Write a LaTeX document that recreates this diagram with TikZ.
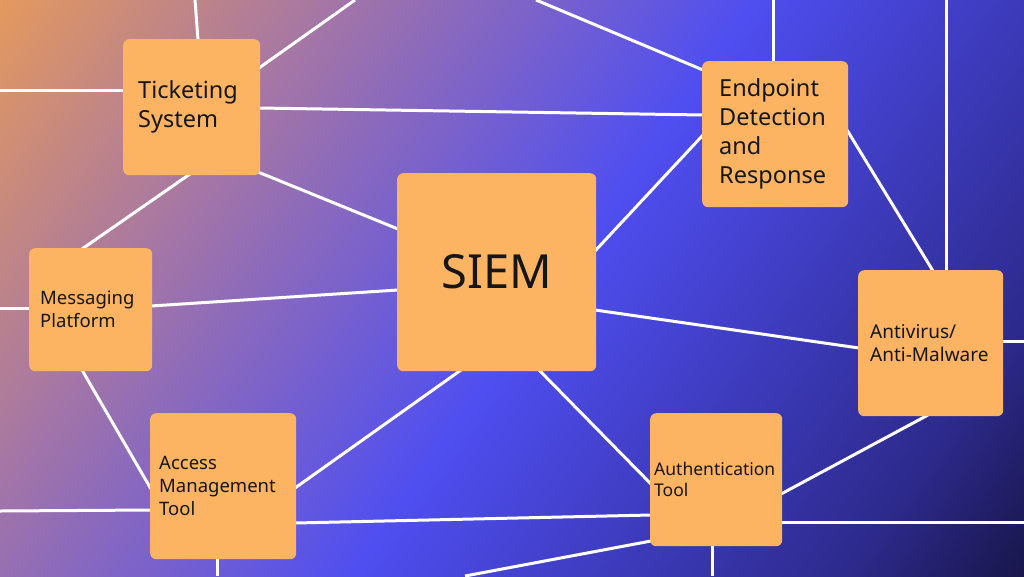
\documentclass[tikz,border=0pt]{standalone}
\usepackage{fontspec}
\setmainfont{Noto Sans}
\usetikzlibrary{backgrounds}
\definecolor{bgA}{HTML}{F0A050}
\definecolor{bgB}{HTML}{A275A8}
\definecolor{bgC}{HTML}{4F4EF0}
\definecolor{bgD}{HTML}{2D2A8C}
\definecolor{bgE}{HTML}{0C0A22}
\definecolor{boxc}{HTML}{FDB462}
\definecolor{txt}{HTML}{161616}
\pgfdeclarehorizontalshading{bgshade}{100bp}{color(0bp)=(bgA); color(12bp)=(bgA); color(32bp)=(bgB); color(52bp)=(bgC); color(76bp)=(bgD); color(90bp)=(bgE); color(100bp)=(bgE)}
\tikzset{
  box/.style={fill=boxc, rounded corners=6pt, align=left, inner ysep=0pt, text=txt, anchor=north west},
  wire/.style={draw=white, line width=3pt}
}
\begin{document}
\begin{tikzpicture}[x=1pt,y=-1pt]
\useasboundingbox (0,0) rectangle (1024,576);
\node[box, minimum width=137pt, minimum height=136pt, text width=107pt, inner xsep=15pt, font=\fontsize{23.5}{29}\selectfont] (t) at (123,39) {Ticketing\\System};
\node[box, minimum width=146pt, minimum height=146pt, text width=112pt, inner xsep=17pt, font=\fontsize{23.5}{29}\selectfont] (e) at (702,61) {Endpoint\\Detection\\and\\Response};
\node[box, minimum width=199pt, minimum height=198pt, text width=199pt, inner xsep=0pt, align=center, font=\fontsize{47}{50}\selectfont] (s) at (397,173) {SIEM};
\node[box, minimum width=123pt, minimum height=123pt, text width=101pt, inner xsep=11pt, font=\fontsize{18.5}{23}\selectfont] (m) at (29,248) {Messaging\\Platform};
\node[box, minimum width=145pt, minimum height=146pt, text width=121pt, inner xsep=12pt, font=\fontsize{19}{23}\selectfont] (av) at (858,270) {Antivirus/\\Anti-Malware};
\node[box, minimum width=146pt, minimum height=146pt, text width=128pt, inner xsep=9pt, font=\fontsize{18.5}{23}\selectfont] (am) at (150,413) {Access\\Management\\Tool};
\node[box, minimum width=132pt, minimum height=133pt, text width=124pt, inner xsep=4pt, font=\fontsize{17.5}{21}\selectfont] (au) at (650,413) {Authentication\\Tool};
\begin{scope}[on background layer]
\shade[shading=bgshade, shading angle=-35] (0,0) rectangle (1024,576);
\draw[wire] (195,0) -- (198,40);
\draw[wire] (0,90) -- (124,90);
\draw[wire] (259,68) -- (355,0);
\draw[wire] (259,108) -- (703,115);
\draw[wire] (190,174) -- (82,249);
\draw[wire] (258,172) -- (398,229);
\draw[wire] (536,0) -- (703,70);
\draw[wire] (773,0) -- (773,62);
\draw[wire] (703,135) -- (595,251);
\draw[wire] (847,130) -- (933,271);
\draw[wire] (946,0) -- (946,271);
\draw[wire] (0,308) -- (30,308);
\draw[wire] (151,306) -- (398,290);
\draw[wire] (82,370) -- (151,489);
\draw[wire] (0,511) -- (151,510);
\draw[wire] (295,488) -- (461,370);
\draw[wire] (295,523) -- (651,515);
\draw[wire] (217,558) -- (217,576);
\draw[wire] (465,576) -- (651,541);
\draw[wire] (595,310) -- (859,348);
\draw[wire] (1002,341) -- (1024,341);
\draw[wire] (928,415) -- (781,494);
\draw[wire] (539,370) -- (651,484);
\draw[wire] (781,522) -- (1024,522);
\draw[wire] (712,545) -- (712,576);
\end{scope}
\end{tikzpicture}
\end{document}
